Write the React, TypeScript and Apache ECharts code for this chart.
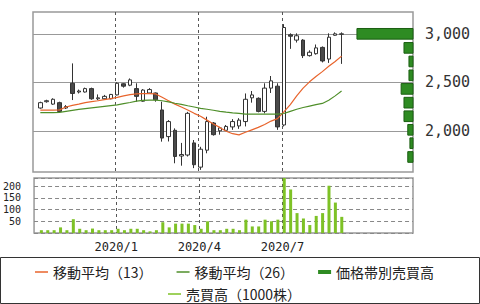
import React, { useEffect, useRef } from 'react';
import * as echarts from 'echarts';

// Weekly candles (week ending Friday)
const weekDates = [
  '2019/10/11', '2019/10/18', '2019/10/25', '2019/11/01', '2019/11/08', '2019/11/15', '2019/11/22', '2019/11/29',
  '2019/12/06', '2019/12/13', '2019/12/20', '2019/12/27', '2020/01/03', '2020/01/10', '2020/01/17', '2020/01/24',
  '2020/01/31', '2020/02/07', '2020/02/14', '2020/02/21', '2020/02/28', '2020/03/06', '2020/03/13', '2020/03/20',
  '2020/03/27', '2020/04/03', '2020/04/10', '2020/04/17', '2020/04/24', '2020/05/01', '2020/05/08', '2020/05/15',
  '2020/05/22', '2020/05/29', '2020/06/05', '2020/06/12', '2020/06/19', '2020/06/26', '2020/07/03', '2020/07/10',
  '2020/07/17', '2020/07/24', '2020/07/31', '2020/08/07', '2020/08/14', '2020/08/21', '2020/08/28', '2020/09/04',
];
const opens = [2235, 2300, 2275, 2290, 2235, 2490, 2400, 2400, 2435, 2330, 2330, 2330, 2370, 2485, 2470, 2435, 2305, 2390, 2390, 2215, 1940, 2005, 1740, 1750, 1875, 1625, 1800, 2080, 2000, 2005, 2040, 2050, 2095, 2340, 2335, 2200, 2440, 2460, 2060, 2990, 2935, 2935, 2775, 2795, 2860, 2740, 2985, 2995];
const closes = [2290, 2310, 2325, 2200, 2250, 2385, 2410, 2435, 2330, 2340, 2355, 2375, 2490, 2460, 2525, 2355, 2420, 2425, 2320, 1925, 2095, 1735, 1755, 2180, 1650, 1810, 2095, 1960, 2030, 2045, 2095, 2110, 2325, 2370, 2200, 2440, 2515, 2040, 3065, 2975, 2980, 2775, 2810, 2855, 2720, 2965, 3000, 3000];
const lows = [2228, 2290, 2268, 2190, 2225, 2317, 2385, 2395, 2320, 2315, 2325, 2325, 2365, 2445, 2460, 2300, 2300, 2380, 2300, 1888, 1890, 1665, 1640, 1735, 1615, 1597, 1768, 1950, 1960, 2000, 2010, 2020, 2045, 2290, 2190, 2180, 2390, 2010, 2045, 2845, 2910, 2750, 2765, 2785, 2705, 2700, 2980, 2690];
const highs = [2300, 2320, 2335, 2300, 2265, 2695, 2425, 2445, 2445, 2375, 2370, 2380, 2500, 2490, 2540, 2490, 2430, 2440, 2395, 2300, 2110, 2025, 1875, 2195, 1905, 1835, 2145, 2090, 2040, 2060, 2120, 2130, 2385, 2410, 2345, 2490, 2565, 2490, 3100, 3005, 3005, 2945, 2830, 2890, 2870, 3005, 3015, 3015];
const ma13 = [2214, 2214, 2214, 2216, 2245, 2262, 2275, 2290, 2300, 2310, 2322, 2332, 2345, 2360, 2372, 2380, 2383, 2384, 2380, 2345, 2310, 2275, 2245, 2215, 2180, 2150, 2110, 2070, 2035, 1995, 1970, 1958, 1985, 2010, 2035, 2065, 2100, 2125, 2195, 2270, 2360, 2440, 2505, 2560, 2610, 2665, 2715, 2770];
const ma26 = [2187, 2187, 2188, 2190, 2200, 2210, 2220, 2228, 2236, 2244, 2252, 2260, 2268, 2280, 2292, 2305, 2314, 2316, 2316, 2310, 2298, 2284, 2272, 2258, 2245, 2232, 2222, 2212, 2200, 2192, 2185, 2180, 2172, 2172, 2172, 2172, 2172, 2172, 2178, 2200, 2222, 2240, 2255, 2270, 2282, 2315, 2360, 2410];
const volumes = [12, 12, 12, 24, 12, 59, 18, 12, 19, 12, 12, 12, 18, 12, 18, 18, 12, 7, 12, 46, 24, 40, 40, 40, 34, 18, 50, 12, 12, 18, 18, 12, 57, 28, 28, 57, 50, 57, 235, 186, 85, 62, 34, 73, 85, 202, 130, 69];

// Volume by price
const bandPrices = [3000, 2855, 2715, 2572, 2432, 2290, 2150, 2010, 1872, 1730];
const bandVolumes = [1180, 190, 85, 85, 250, 190, 190, 110, 65, 110];

const tickDates = ['2020/01/01', '2020/04/01', '2020/07/01'];
const tickLabels = ['2020/1', '2020/4', '2020/7'];
const axisStart = '2019/10/03';
const axisEnd = '2020/11/21';
const priceTicks = [2000, 2500, 3000];

const dayOf = (s: string) => {
  const [y, m, d] = s.split('/').map(Number);
  return (Date.UTC(y, m - 1, d) - Date.UTC(2020, 0, 1)) / 86400000;
};

export default function App() {
  const ref = useRef<HTMLDivElement>(null);
  useEffect(() => {
    document.body.style.margin = '0';
    if (!ref.current) return;
    const chart = echarts.init(ref.current, undefined, { renderer: 'svg' });
    const xs = weekDates.map(dayOf);
    const tickDays = tickDates.map(dayOf);
    const xMin = dayOf(axisStart);
    const xMax = dayOf(axisEnd);
    const labelOf = (v: number) => {
      const i = tickDays.findIndex((t) => Math.abs(t - v) < 0.5);
      return i >= 0 ? tickLabels[i] : '';
    };
    const fmtPrice = (v: number) => String(v).replace(/\B(?=(\d{3})+(?!\d))/g, ',');
    const mono = 'DejaVu Sans Mono';
    const cjk = 'Noto Sans CJK JP';
    const thin = 'path://M0 0H26V3H0Z';
    const thick = 'path://M0 0H13V4H0Z';
    const bandHalf = 55;
    const vSplit = { show: true, lineStyle: { color: '#555', type: [3, 3], width: 1 } };
    const legendText = { fontFamily: cjk, fontSize: 14, lineHeight: 14, color: '#222' };

    chart.setOption({
      animation: false,
      backgroundColor: '#ffffff',
      grid: [
        { left: 33, top: 12, width: 380, height: 160, show: true, borderColor: '#999', borderWidth: 1.5 },
        { left: 33, top: 178, width: 380, height: 55, show: true, borderColor: '#999', borderWidth: 1.5 },
      ],
      xAxis: [
        {
          type: 'value', gridIndex: 0, min: xMin, max: xMax,
          axisLine: { show: false }, axisLabel: { show: false },
          axisTick: { show: false, customValues: tickDays }, splitLine: vSplit,
        },
        {
          type: 'value', gridIndex: 1, min: xMin, max: xMax,
          axisLine: { show: false },
          axisTick: { show: false, customValues: tickDays },
          axisLabel: { customValues: tickDays, formatter: labelOf, fontFamily: mono, fontSize: 12, color: '#222', margin: 8 },
          splitLine: vSplit,
        },
        { type: 'value', gridIndex: 0, inverse: true, min: 0, max: 8000, show: false },
      ],
      yAxis: [
        {
          type: 'value', gridIndex: 0, position: 'right', min: 1575, max: 3225,
          axisLine: { show: false },
          axisTick: { show: false, customValues: priceTicks },
          axisLabel: { customValues: priceTicks, formatter: fmtPrice, fontFamily: mono, fontSize: 15, color: '#333', margin: 12 },
          splitLine: { show: true, lineStyle: { color: '#999', width: 1 } },
        },
        {
          type: 'value', gridIndex: 1, min: 0, max: 235, interval: 50,
          axisLine: { show: false }, axisTick: { show: false },
          axisLabel: {
            formatter: (v: number) => (v > 0 && v <= 200 ? String(v) : ''),
            fontFamily: mono, fontSize: 10, color: '#222', margin: 13,
          },
          splitLine: { show: true, lineStyle: { color: '#888', type: [4, 3], width: 1 } },
        },
      ],
      legend: [
        {
          left: 30, top: 260, itemGap: 24, itemWidth: 13, itemHeight: 14, selectedMode: false,
          textStyle: legendText,
          data: [
            { name: '移動平均（13）', icon: thin },
            { name: '移動平均（26）', icon: thin },
            { name: '価格帯別売買高', icon: thick },
          ],
        },
        {
          left: 163, top: 282, itemGap: 24, itemWidth: 13, itemHeight: 14, selectedMode: false,
          textStyle: legendText,
          data: [{ name: '売買高（1000株）', icon: thin }],
        },
      ],
      graphic: [
        {
          type: 'rect', silent: true,
          shape: { x: 0.5, y: 257.5, width: 479, height: 46 },
          style: { fill: 'none', stroke: '#333', lineWidth: 1 },
        },
      ],
      series: [
        {
          name: '価格帯別売買高', type: 'custom', xAxisIndex: 2, yAxisIndex: 0,
          encode: { x: 0, y: 1 },
          itemStyle: { color: '#2e8b22' },
          data: bandPrices.map((p, i) => [bandVolumes[i], p]),
          renderItem: (params: any, api: any) => {
            const v = api.value(0);
            const p = api.value(1);
            const a = api.coord([v, p + bandHalf]);
            const b = api.coord([0, p - bandHalf]);
            return {
              type: 'rect',
              shape: {
                x: Math.min(a[0], b[0]), y: Math.min(a[1], b[1]),
                width: Math.abs(a[0] - b[0]), height: Math.abs(a[1] - b[1]),
              },
              style: { fill: '#2e8b22', stroke: '#1b5e12', lineWidth: 1 },
            };
          },
        },
        {
          name: '株価', type: 'candlestick', xAxisIndex: 0, yAxisIndex: 0,
          encode: { x: 0, y: [1, 2, 3, 4] },
          barWidth: 4,
          itemStyle: { color: '#ffffff', color0: '#4a4a4a', borderColor: '#333', borderColor0: '#333', borderWidth: 1 },
          data: xs.map((x, i) => [x, opens[i], closes[i], lows[i], highs[i]]),
        },
        {
          name: '移動平均（13）', type: 'line', xAxisIndex: 0, yAxisIndex: 0, symbol: 'none',
          lineStyle: { color: '#e8642c', width: 1.2 }, itemStyle: { color: '#e8642c' },
          data: xs.map((x, i) => [x, ma13[i]]),
        },
        {
          name: '移動平均（26）', type: 'line', xAxisIndex: 0, yAxisIndex: 0, symbol: 'none',
          lineStyle: { color: '#4f8f2a', width: 1.2 }, itemStyle: { color: '#4f8f2a' },
          data: xs.map((x, i) => [x, ma26[i]]),
        },
        {
          name: '売買高（1000株）', type: 'bar', xAxisIndex: 1, yAxisIndex: 1, barWidth: 3,
          itemStyle: { color: '#7ec226' },
          data: xs.map((x, i) => [x, volumes[i]]),
        },
      ],
    });
    return () => chart.dispose();
  }, []);
  return <div ref={ref} style={{ width: 480, height: 304 }} />;
}
